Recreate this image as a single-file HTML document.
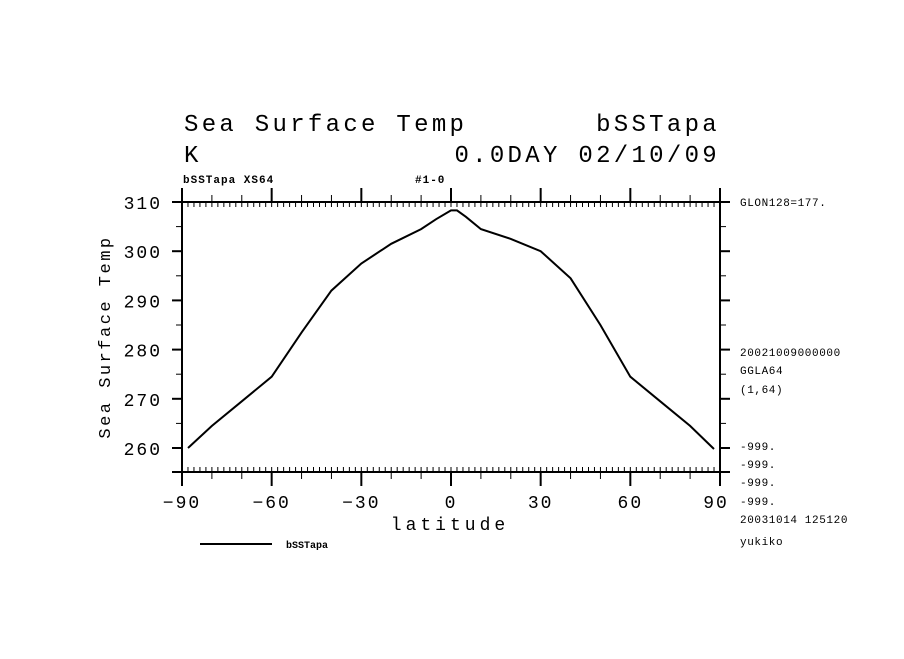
<!DOCTYPE html>
<html><head><meta charset="utf-8"><style>
body{margin:0;background:#fff;}
svg text{font-family:"Liberation Mono",monospace;fill:#000;}
</style></head><body>
<svg width="904" height="654" viewBox="0 0 904 654" xmlns="http://www.w3.org/2000/svg">
<g>
<text x="184" y="131" font-size="24" letter-spacing="3.3">Sea Surface Temp</text>
<text x="720" y="131" font-size="24" letter-spacing="3.3" text-anchor="end">bSSTapa</text>
<text x="184" y="162" font-size="24" letter-spacing="3.3">K</text>
<text x="720" y="162" font-size="24" letter-spacing="3.3" text-anchor="end">0.0DAY 02/10/09</text>
<text x="183" y="183" font-size="11" font-weight="bold" letter-spacing="1">bSSTapa XS64</text>
<text x="415" y="183" font-size="11" font-weight="bold" letter-spacing="1">#1-0</text>
</g>
<g id="axes"></g>
<path id="line" fill="none" stroke="#000" stroke-width="2"/>
<text x="450" y="530" font-size="18" letter-spacing="4" text-anchor="middle">latitude</text>
<text transform="translate(110,337) rotate(-90)" font-size="17" letter-spacing="2.5" text-anchor="middle">Sea Surface Temp</text>
<g font-size="11" letter-spacing="0.6">
<text x="740" y="206">GLON128=177.</text>
<text x="740" y="356">20021009000000</text>
<text x="740" y="374">GGLA64</text>
<text x="740" y="393">(1,64)</text>
<text x="740" y="450">-999.</text>
<text x="740" y="468">-999.</text>
<text x="740" y="486">-999.</text>
<text x="740" y="505">-999.</text>
<text x="740" y="523">20031014 125120</text>
<text x="740" y="545">yukiko</text>
</g>
<line x1="200" y1="544" x2="272" y2="544" stroke="#000" stroke-width="2"/>
<text x="286" y="548" font-size="10" font-weight="bold">bSSTapa</text>
<script>
const lats=[-88,-80,-70,-60,-50,-40,-30,-20,-10,-5,0,2,5,10,20,30,40,50,60,70,80,88];
const sst=[260,264.5,269.5,274.5,283.5,292,297.5,301.5,304.5,306.5,308.3,308.3,307,304.5,302.5,300,294.5,285,274.5,269.5,264.5,259.8];
const xTicks=[-90,-60,-30,0,30,60,90];
const yTicks=[260,270,280,290,300,310];
const X0=182,X1=720,Y0=472,Y1=202;
function sx(v){return X0+(v+90)/180*(X1-X0);}
function sy(v){return 448-(v-260)/50*(448-Y1);}
const NS='http://www.w3.org/2000/svg';
const ax=document.getElementById('axes');
function ln(x1,y1,x2,y2,w,name){const l=document.createElementNS(NS,'line');l.setAttribute('x1',x1);l.setAttribute('y1',y1);l.setAttribute('x2',x2);l.setAttribute('y2',y2);l.setAttribute('stroke','#000');l.setAttribute('stroke-width',w);


ax.appendChild(l);}
function tx(x,y,s,anchor,name){const t=document.createElementNS(NS,'text');t.setAttribute('x',x);t.setAttribute('y',y);t.setAttribute('font-size','18');t.setAttribute('letter-spacing','2');t.setAttribute('text-anchor',anchor);t.textContent=s;


ax.appendChild(t);}
ln(X0,Y0,X1,Y0,2,'x-axis-bottom');ln(X0,Y1,X1,Y1,2,'x-axis-top');
ln(X0,Y1,X0,Y0,2,'y-axis-left');ln(X1,Y1,X1,Y0,2,'y-axis-right');
ln(X0-10,Y1,X0,Y1,2,'y-tick');ln(X0-10,Y0,X0,Y0,2,'y-tick');ln(X1,Y0,X1+10,Y0,2,'y-tick');
for(let v=-90;v<=90;v+=2){const x=sx(v);
 if(v%30===0){ln(x,Y0,x,Y0+14,2,'x-major-tick');ln(x,Y1,x,Y1-14,2,'x-major-tick-top');}
 else if(v%10===0){ln(x,Y0,x,Y0+7,1,'x-minor-tick');ln(x,Y1,x,Y1-7,1,'x-minor-tick-top');}
 ln(x,Y0,x,Y0-5,1,'x-fine-tick');ln(x,Y1,x,Y1+5,1,'x-fine-tick-top');}
for(let v=260;v<=310;v+=5){const y=sy(v);const m=v%10===0;
 ln(X0-(m?10:6),y,X0,y,m?2:1,'y-tick');ln(X1,y,X1+(m?10:6),y,m?2:1,'y-tick-right');}
xTicks.forEach(v=>tx(sx(v)+(v===90?-4:0),508,String(v).replace('-','\u2212'),'middle','x-tick-label'));
yTicks.forEach(v=>tx(162,sy(v)+7,String(v),'end','y-tick-label'));
document.getElementById('line').setAttribute('d',lats.map((v,i)=>(i?'L':'M')+sx(v).toFixed(1)+' '+sy(sst[i]).toFixed(1)).join(' '));
</script>
</svg>
</body></html>
